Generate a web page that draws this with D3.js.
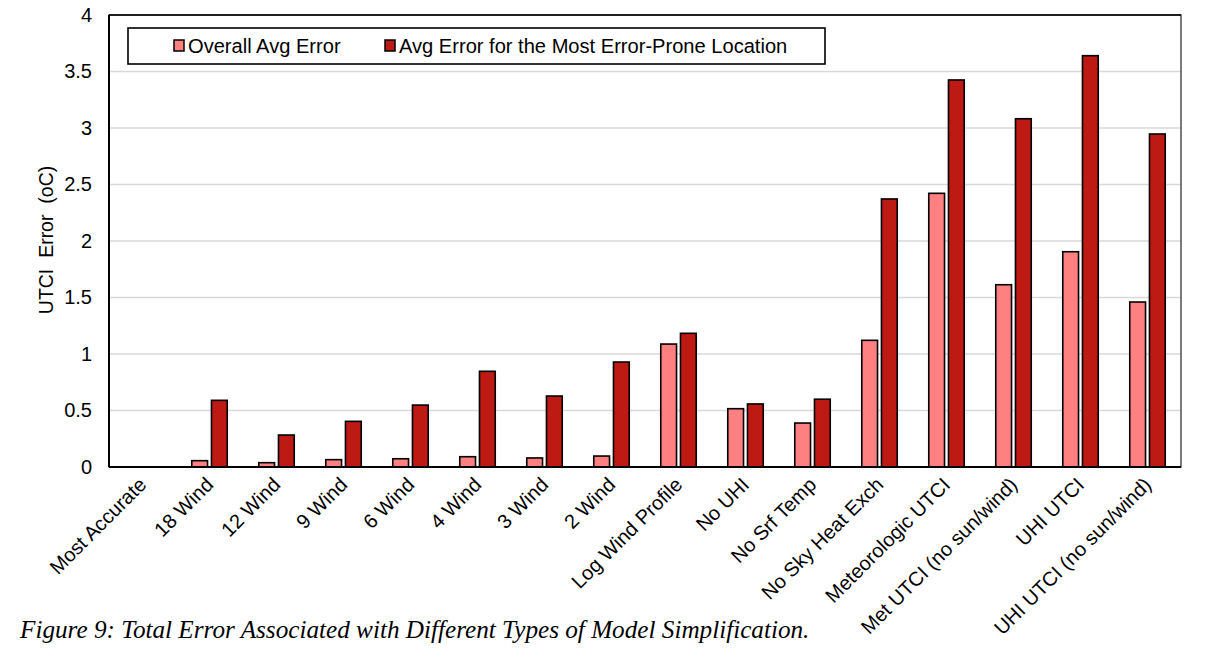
<!DOCTYPE html>
<html>
<head>
<meta charset="utf-8">
<script src="https://cdn.jsdelivr.net/npm/d3@7"></script>
<style>
  body { margin: 0; background: #fff; }
  text { font-family: "Liberation Sans", Arial, sans-serif; fill: #000; }
  .caption { font-family: "Liberation Serif", "Times New Roman", serif; font-style: italic; }
</style>
</head>
<body>
<svg width="1213" height="658"></svg>
<script>
var categories = ['Most Accurate', '18 Wind', '12 Wind', '9 Wind', '6 Wind', '4 Wind', '3 Wind', '2 Wind',
    'Log Wind Profile', 'No UHI', 'No Srf Temp', 'No Sky Heat Exch', 'Meteorologic UTCI',
    'Met UTCI (no sun/wind)', 'UHI UTCI', 'UHI UTCI (no sun/wind)'];
var seriesNames = ['Overall Avg Error', 'Avg Error for the Most Error-Prone Location'];
var overallAvg = [0, 0.056, 0.038, 0.065, 0.073, 0.091, 0.080, 0.097, 1.088, 0.516, 0.389, 1.121, 2.422, 1.613, 1.905, 1.460];
var worstLocation = [0, 0.59, 0.283, 0.404, 0.548, 0.847, 0.628, 0.929, 1.183, 0.558, 0.600, 2.372, 3.425, 3.082, 3.640, 2.947];
var yTicks = [0, 0.5, 1, 1.5, 2, 2.5, 3, 3.5, 4];
var colors = ['#ff8080', '#bd1a14'];

var svg = d3.select('svg');
var padding = {t: 15, l: 109};
var chartWidth = 1072;
var chartHeight = 452;

var chartG = svg.append('g')
    .attr('transform', 'translate(' + [padding.l, padding.t] + ')');

var xScale = d3.scaleBand().domain(categories).range([0, chartWidth]);
var x1 = d3.scaleBand().domain(seriesNames).range([0, xScale.bandwidth()])
    .paddingInner(0.2).paddingOuter(0.8);
var yScale = d3.scaleLinear().domain([0, 4]).range([chartHeight, 0]);

// gridlines
chartG.selectAll('.grid')
    .data(yTicks.slice(1, -1))
    .enter().append('line')
    .attr('x1', 0).attr('x2', chartWidth)
    .attr('y1', function(d) { return yScale(d); })
    .attr('y2', function(d) { return yScale(d); })
    .attr('stroke', '#d9d9d9')
    .attr('stroke-width', 1.5);

// plot frame
chartG.append('rect')
    .attr('width', chartWidth).attr('height', chartHeight)
    .attr('fill', 'none').attr('stroke', '#333').attr('stroke-width', 1.3);

// bars
var rows = categories.map(function(c, i) {
    return {cat: c, values: [overallAvg[i], worstLocation[i]]};
});
var groups = chartG.selectAll('.group')
    .data(rows)
    .enter().append('g')
    .attr('transform', function(d) { return 'translate(' + xScale(d.cat) + ',0)'; });

groups.selectAll('rect')
    .data(function(d) { return d.values.map(function(v, j) { return {name: seriesNames[j], v: v, j: j}; }); })
    .enter().append('rect')
    .filter(function(d) { return d.v > 0; })
    .attr('x', function(d) { return x1(d.name); })
    .attr('width', x1.bandwidth())
    .attr('y', function(d) { return yScale(d.v); })
    .attr('height', function(d) { return chartHeight - yScale(d.v); })
    .attr('fill', function(d) { return colors[d.j]; })
    .attr('stroke', '#000')
    .attr('stroke-width', 1.6);

// axis lines
chartG.append('line').attr('x1', 0).attr('x2', 0).attr('y1', 0).attr('y2', chartHeight)
    .attr('stroke', '#000').attr('stroke-width', 2);
chartG.append('line').attr('x1', 0).attr('x2', chartWidth).attr('y1', chartHeight).attr('y2', chartHeight)
    .attr('stroke', '#000').attr('stroke-width', 2);
chartG.append('line').attr('x1', 0).attr('x2', chartWidth).attr('y1', 0).attr('y2', 0)
    .attr('stroke', '#000').attr('stroke-width', 1.5);

// y axis
var yAxis = d3.axisLeft(yScale).tickValues(yTicks).tickSize(0).tickPadding(17)
    .tickFormat(function(d) { return d; });
var yG = chartG.append('g').call(yAxis);
yG.select('.domain').remove();
yG.selectAll('text').style('font-size', '20px').attr('font-family', null);

svg.append('text')
    .attr('transform', 'translate(' + [53, 240] + ')rotate(-90)')
    .attr('text-anchor', 'middle')
    .style('font-size', '19.5px')
    .style('white-space', 'pre')
    .attr('xml:space', 'preserve')
    .text('UTCI  Error  (oC)');

// x labels
chartG.selectAll('.xlabel')
    .data(categories)
    .enter().append('text')
    .attr('text-anchor', 'end')
    .style('font-size', '20px')
    .attr('transform', function(d) {
        return 'translate(' + [xScale(d) + xScale.bandwidth() / 2 + 5, chartHeight + 19] + ')rotate(-45)';
    })
    .text(function(d) { return d; });

// legend
var legend = svg.append('g');
legend.append('rect')
    .attr('x', 128).attr('y', 28).attr('width', 697).attr('height', 36)
    .attr('fill', '#fff').attr('stroke', '#000').attr('stroke-width', 1.6);
var legendX = [174, 385];
seriesNames.forEach(function(name, j) {
    legend.append('rect')
        .attr('x', legendX[j]).attr('y', 40).attr('width', 10).attr('height', 11)
        .attr('fill', colors[j]).attr('stroke', '#000').attr('stroke-width', 1.5);
    legend.append('text')
        .attr('x', legendX[j] + 14).attr('y', 53)
        .style('font-size', '20.1px')
        .text(name);
});

// caption
svg.append('text')
    .attr('class', 'caption')
    .attr('x', 20).attr('y', 638)
    .style('font-size', '25.2px')
    .text('Figure 9: Total Error Associated with Different Types of Model Simplification.');
</script>
</body>
</html>
